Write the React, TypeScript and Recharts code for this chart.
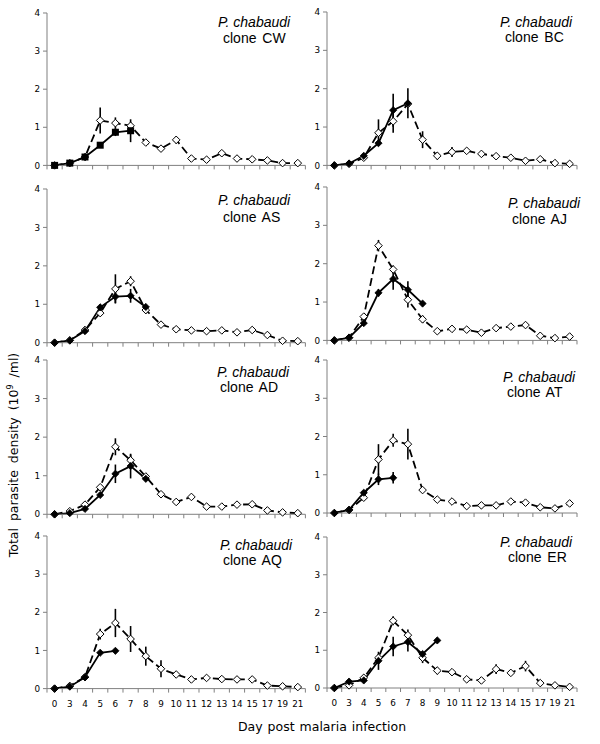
import React from 'react';
import { ComposedChart, Line, XAxis, YAxis, ErrorBar } from 'recharts';

const days = ['0', '3', '4', '5', '6', '7', '8', '9', '10', '11', '12', '13', '14', '15', '17', '19', '21'];
const yTicks = [0, 1, 2, 3, 4];

// clone CW
const cwSolid = [0, 0.06, 0.22, 0.53, 0.87, 0.91];
const cwSolidErr = [0, 0, 0, 0.06, 0.1, 0.3];
const cwDash = [0, 0.06, 0.22, 1.18, 1.11, 1.04, 0.6, 0.44, 0.67, 0.18, 0.15, 0.32, 0.18, 0.16, 0.13, 0.06, 0.06];
const cwDashErr = [0, 0, 0, 0.34, 0.15, 0, 0, 0, 0.1, 0, 0, 0.05, 0, 0, 0, 0, 0];

// clone BC
const bcSolid = [0, 0.05, 0.25, 0.58, 1.44, 1.62];
const bcSolidErr = [0, 0, 0, 0.05, 0.43, 0.39];
const bcDash = [0, 0.04, 0.2, 0.85, 1.15, 1.6, 0.67, 0.25, 0.35, 0.38, 0.3, 0.24, 0.2, 0.12, 0.16, 0.06, 0.04];
const bcDashErr = [0, 0, 0, 0.35, 0.3, 0, 0.22, 0.1, 0.13, 0.05, 0, 0, 0, 0, 0, 0, 0];

// clone AS
const asSolid = [0, 0.06, 0.3, 0.92, 1.2, 1.22, 0.93];
const asSolidErr = [0, 0, 0, 0.08, 0.17, 0.18, 0.05];
const asDash = [0, 0.06, 0.33, 0.77, 1.4, 1.6, 0.85, 0.47, 0.35, 0.32, 0.3, 0.32, 0.27, 0.33, 0.2, 0.05, 0.04];
const asDashErr = [0, 0, 0, 0.05, 0.38, 0.13, 0.1, 0, 0, 0, 0, 0, 0, 0, 0, 0, 0];

// clone AJ
const ajSolid = [0, 0.07, 0.45, 1.24, 1.6, 1.32, 0.96];
const ajSolidErr = [0, 0, 0, 0.1, 0.28, 0.22, 0];
const ajDash = [0, 0.07, 0.62, 2.47, 1.85, 1.06, 0.55, 0.24, 0.3, 0.28, 0.2, 0.32, 0.36, 0.4, 0.12, 0.06, 0.1];
const ajDashErr = [0, 0, 0.05, 0.15, 0.1, 0.2, 0.1, 0, 0, 0, 0, 0, 0, 0, 0, 0, 0];

// clone AD
const adSolid = [0, 0.03, 0.14, 0.5, 1.05, 1.25, 0.92];
const adSolidErr = [0, 0, 0, 0.05, 0.24, 0.32, 0.05];
const adDash = [0, 0.08, 0.25, 0.7, 1.75, 1.4, 0.98, 0.52, 0.32, 0.45, 0.2, 0.2, 0.25, 0.26, 0.1, 0.05, 0.03];
const adDashErr = [0, 0, 0, 0.05, 0.22, 0.15, 0.05, 0.05, 0, 0, 0, 0, 0, 0, 0, 0, 0];

// clone AT
const atSolid = [0, 0.08, 0.53, 0.88, 0.92];
const atSolidErr = [0, 0, 0.05, 0.15, 0.15];
const atDash = [0, 0.08, 0.4, 1.4, 1.9, 1.8, 0.6, 0.35, 0.3, 0.18, 0.2, 0.2, 0.3, 0.27, 0.15, 0.12, 0.25];
const atDashErr = [0, 0, 0, 0.4, 0.17, 0.4, 0.05, 0, 0, 0, 0, 0, 0, 0, 0, 0, 0];

// clone AQ
const aqSolid = [0, 0.05, 0.3, 0.94, 0.99];
const aqSolidErr = [0, 0, 0, 0, 0];
const aqDash = [0, 0.07, 0.3, 1.43, 1.72, 1.3, 0.85, 0.52, 0.37, 0.24, 0.28, 0.25, 0.24, 0.24, 0.08, 0.06, 0.04];
const aqDashErr = [0, 0, 0, 0.14, 0.37, 0.34, 0.25, 0.22, 0.05, 0, 0, 0, 0, 0, 0, 0, 0];

// clone ER
const erSolid = [0, 0.17, 0.2, 0.72, 1.1, 1.22, 0.9, 1.26];
const erSolidErr = [0, 0.03, 0.05, 0.24, 0.26, 0.25, 0.05, 0];
const erDash = [0, 0.07, 0.27, 0.8, 1.78, 1.4, 0.8, 0.46, 0.42, 0.23, 0.2, 0.5, 0.4, 0.58, 0.13, 0.07, 0.03];
const erDashErr = [0, 0, 0, 0.1, 0.12, 0.15, 0.14, 0.1, 0, 0, 0, 0.13, 0, 0.14, 0, 0, 0];

type PanelCfg = {
  clone: string;
  solid: number[];
  solidErr: number[];
  dash: number[];
  dashErr: number[];
  marker: 'square' | 'diamond';
  plotLeft: number;
  plotTop: number;
  plotBottom: number;
  plotWidth: number;
  showX: boolean;
  titleP: [number, number];
  titleC: [number, number];
};

const LW = 258.4;
const RW = 250;

const panels: PanelCfg[] = [
  { clone: 'CW', solid: cwSolid, solidErr: cwSolidErr, dash: cwDash, dashErr: cwDashErr, marker: 'square', plotLeft: 47.3, plotTop: 13.3, plotBottom: 165.7, plotWidth: LW, showX: false, titleP: [218, 22], titleC: [223, 38] },
  { clone: 'BC', solid: bcSolid, solidErr: bcSolidErr, dash: bcDash, dashErr: bcDashErr, marker: 'diamond', plotLeft: 327, plotTop: 12.3, plotBottom: 165.7, plotWidth: RW, showX: false, titleP: [500, 22], titleC: [505, 37] },
  { clone: 'AS', solid: asSolid, solidErr: asSolidErr, dash: asDash, dashErr: asDashErr, marker: 'diamond', plotLeft: 47.3, plotTop: 189, plotBottom: 342.7, plotWidth: LW, showX: false, titleP: [218, 200], titleC: [223, 217] },
  { clone: 'AJ', solid: ajSolid, solidErr: ajSolidErr, dash: ajDash, dashErr: ajDashErr, marker: 'diamond', plotLeft: 327, plotTop: 187.3, plotBottom: 340.7, plotWidth: RW, showX: false, titleP: [508, 203], titleC: [512, 219] },
  { clone: 'AD', solid: adSolid, solidErr: adSolidErr, dash: adDash, dashErr: adDashErr, marker: 'diamond', plotLeft: 47.3, plotTop: 360, plotBottom: 514.3, plotWidth: LW, showX: false, titleP: [217, 372], titleC: [220, 387] },
  { clone: 'AT', solid: atSolid, solidErr: atSolidErr, dash: atDash, dashErr: atDashErr, marker: 'diamond', plotLeft: 327, plotTop: 360, plotBottom: 513, plotWidth: RW, showX: false, titleP: [503, 377], titleC: [507, 392] },
  { clone: 'AQ', solid: aqSolid, solidErr: aqSolidErr, dash: aqDash, dashErr: aqDashErr, marker: 'diamond', plotLeft: 47.3, plotTop: 535.7, plotBottom: 688.3, plotWidth: LW, showX: true, titleP: [220, 545], titleC: [223, 560] },
  { clone: 'ER', solid: erSolid, solidErr: erSolidErr, dash: erDash, dashErr: erDashErr, marker: 'diamond', plotLeft: 327, plotTop: 537.3, plotBottom: 688.3, plotWidth: RW, showX: true, titleP: [500, 542], titleC: [508, 557] },
];

const xTicks: number[] = [];
for (let i = 0; i <= days.length * 2; i++) xTicks.push(-0.5 + i * 0.5);

const AXIS = '#808080';
const TICK_FONT = 'DejaVu Sans, Verdana, sans-serif';

const XTick = (props: any) => {
  const { x, y, payload, showLabels } = props;
  const v = payload.value as number;
  const r = Math.round(v);
  if (Math.abs(v - r) > 0.01) {
    return <line x1={x} x2={x} y1={y} y2={y + 4} stroke={AXIS} strokeWidth={1} />;
  }
  if (!showLabels || r < 0 || r >= days.length) return <g />;
  return (
    <text x={x} y={y + 18} textAnchor="middle" fontSize={8.8} fontFamily={TICK_FONT} fill="#000">
      {days[r]}
    </text>
  );
};

const makeDot = (kind: 'filled-diamond' | 'open-diamond' | 'square') => (props: any) => {
  const { cx, cy, index, value } = props;
  const key = `${kind}-${index}`;
  if (cx == null || cy == null || value == null || Number.isNaN(cy)) return <g key={key} />;
  if (kind === 'square') {
    return <rect key={key} x={cx - 3.5} y={cy - 3.5} width={7} height={7} fill="#000" />;
  }
  const s = kind === 'open-diamond' ? 3.8 : 3.6;
  const pts = `${cx},${cy - s} ${cx + s},${cy} ${cx},${cy + s} ${cx - s},${cy}`;
  if (kind === 'open-diamond') {
    return <polygon key={key} points={pts} fill="#fff" stroke="#000" strokeWidth={1} />;
  }
  return <polygon key={key} points={pts} fill="#000" stroke="#000" strokeWidth={0.8} />;
};

const Panel = ({ p }: { p: PanelCfg }) => {
  const data = days.map((d, i) => ({
    idx: i,
    day: d,
    solid: i < p.solid.length ? p.solid[i] : null,
    solidErr: i < p.solidErr.length ? p.solidErr[i] : null,
    dash: p.dash[i],
    dashErr: p.dashErr[i],
  }));
  const mTop = 10;
  const mLeft = 10;
  const yW = 30;
  const mRight = 10;
  const xH = p.showX ? 22 : 8;
  const plotH = p.plotBottom - p.plotTop;
  const w = mLeft + yW + p.plotWidth + mRight;
  const h = mTop + plotH + xH + 2;
  return (
    <div style={{ position: 'absolute', left: p.plotLeft - mLeft - yW, top: p.plotTop - mTop, width: w, height: h }}>
      <ComposedChart width={w} height={h} data={data} margin={{ top: mTop, right: mRight, left: mLeft, bottom: 2 }}>
        <XAxis
          type="number"
          dataKey="idx"
          domain={[-0.5, days.length - 0.5]}
          ticks={xTicks}
          interval={0}
          allowDataOverflow
          height={xH}
          tickSize={0}
          tickMargin={0}
          tickLine={false}
          axisLine={{ stroke: AXIS, strokeWidth: 1 }}
          tick={(tp: any) => <XTick {...tp} showLabels={p.showX} />}
        />
        <YAxis
          type="number"
          domain={[0, 4]}
          ticks={yTicks}
          interval={0}
          width={yW}
          tickSize={4}
          tickMargin={3}
          axisLine={{ stroke: AXIS, strokeWidth: 1 }}
          tickLine={{ stroke: AXIS, strokeWidth: 1 }}
          tick={{ fontSize: 8.8, fontFamily: TICK_FONT, fill: '#000' }}
        />
        <Line
          type="linear"
          dataKey="dash"
          stroke="#000"
          strokeWidth={1.8}
          strokeDasharray="8 4"
          dot={makeDot('open-diamond')}
          activeDot={false}
          isAnimationActive={false}
        >
          <ErrorBar dataKey="dashErr" width={0} stroke="#000" strokeWidth={1.6} direction="y" isAnimationActive={false} />
        </Line>
        <Line
          type="linear"
          dataKey="solid"
          stroke="#000"
          strokeWidth={1.8}
          dot={makeDot(p.marker === 'square' ? 'square' : 'filled-diamond')}
          activeDot={false}
          connectNulls={false}
          isAnimationActive={false}
        >
          <ErrorBar dataKey="solidErr" width={0} stroke="#000" strokeWidth={1.6} direction="y" isAnimationActive={false} />
        </Line>
      </ComposedChart>
    </div>
  );
};

const titleFont = '"Liberation Sans", Arial, sans-serif';

export default function App() {
  return (
    <div style={{ position: 'absolute', left: 0, top: 0, width: 600, height: 744, background: '#fff', overflow: 'hidden' }}>
      {panels.map((p) => (
        <Panel key={p.clone} p={p} />
      ))}
      {panels.map((p) => (
        <React.Fragment key={'t' + p.clone}>
          <div
            style={{
              position: 'absolute',
              left: p.titleP[0],
              top: p.titleP[1] - 8,
              fontFamily: titleFont,
              fontSize: 14,
              lineHeight: '16px',
              fontStyle: 'italic',
              color: '#000',
              whiteSpace: 'nowrap',
            }}
          >
            P. chabaudi
          </div>
          <div
            style={{
              position: 'absolute',
              left: p.titleC[0],
              top: p.titleC[1] - 8,
              fontFamily: titleFont,
              fontSize: 14,
              lineHeight: '16px',
              color: '#000',
              whiteSpace: 'nowrap',
              wordSpacing: 2,
            }}
          >
            clone {p.clone}
          </div>
        </React.Fragment>
      ))}
      <div
        style={{
          position: 'absolute',
          left: 322 - 150,
          top: 727 - 9,
          width: 300,
          textAlign: 'center',
          fontFamily: TICK_FONT,
          fontSize: 12.5,
          lineHeight: '18px',
          color: '#000',
          wordSpacing: 1,
          whiteSpace: 'nowrap',
        }}
      >
        Day post malaria infection
      </div>
      <div
        style={{
          position: 'absolute',
          left: 11 - 150,
          top: 455 - 9,
          width: 300,
          height: 18,
          textAlign: 'center',
          fontFamily: TICK_FONT,
          fontSize: 12.5,
          lineHeight: '18px',
          color: '#000',
          wordSpacing: 3,
          whiteSpace: 'nowrap',
          transform: 'rotate(-90deg)',
          transformOrigin: '150px 9px',
        }}
      >
        Total parasite density (10<span style={{ fontSize: 8, verticalAlign: 'super' }}>9</span> /ml)
      </div>
    </div>
  );
}
